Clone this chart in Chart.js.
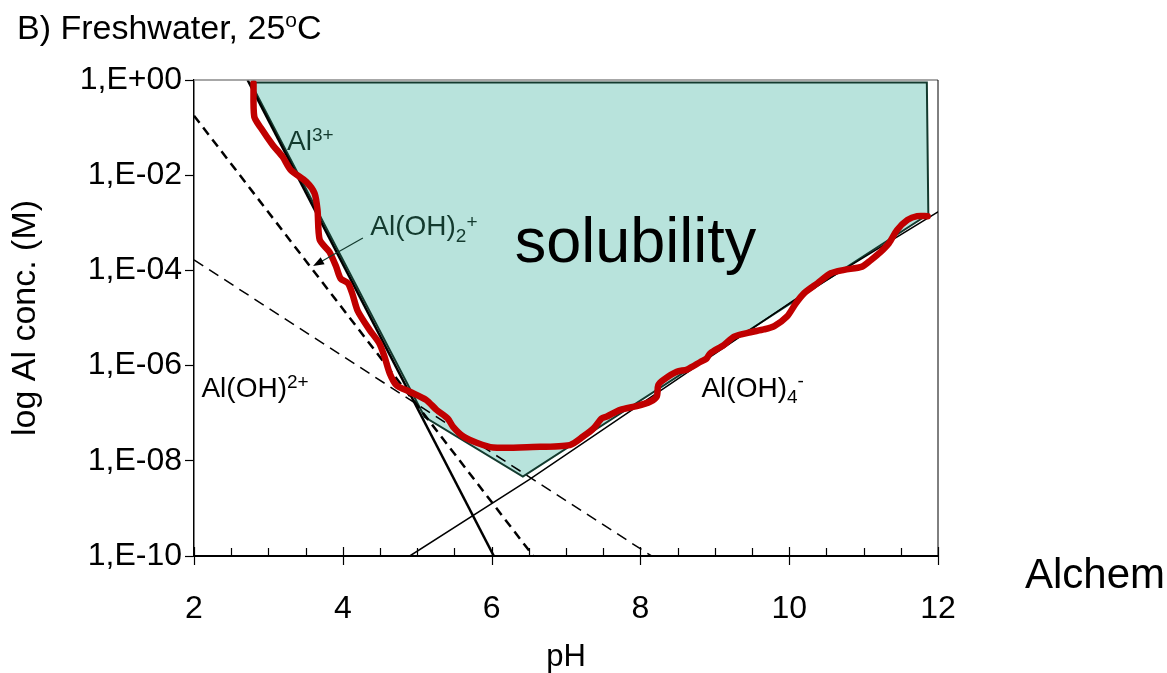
<!DOCTYPE html>
<html>
<head>
<meta charset="utf-8">
<script src="https://cdn.jsdelivr.net/npm/chart.js@4.4.1/dist/chart.umd.min.js"></script>
<style>
    html, body { margin: 0; padding: 0; background: #fff; }
    #wrap { width: 1167px; height: 673px; }
</style>
</head>
<body>
<div id="wrap"><canvas id="myChart" width="1167" height="673"></canvas></div>
<script>
let chart; // 전역 차트 객체

// 축 눈금
const pHTicks = [2, 4, 6, 8, 10, 12];
const logTicks = [-10, -8, -6, -4, -2, 0];
const logTickLabels = ["1,E-10", "1,E-08", "1,E-06", "1,E-04", "1,E-02", "1,E+00"];

// 용해도 영역 (다각형)
const solPH  = [2.76, 11.85, 11.87, 6.42, 5.10, 2.76];
const solLog = [-0.05, -0.05, -2.82, -8.33, -7.08, -0.05];

// Al3+ 선
const al3PH  = [2.72, 6.03];
const al3Log = [0, -10];

// Al(OH)4- 선
const al4PH  = [4.90, 6.50, 10.07, 12.05];
const al4Log = [-10, -8.40, -4.62, -2.72];

// Al(OH)2+ 선 (굵은 점선)
const alOH2PH  = [2, 6.56];
const alOH2Log = [-0.75, -10];

// Al(OH)2+ 선 (가는 점선)
const alOHPH  = [2, 8.15];
const alOHLog = [-3.78, -10];

// 측정 용해도 (빨간 선)
const measPH = [2.80, 2.81, 2.90, 3.06, 3.19, 3.30, 3.51, 3.62, 3.66, 3.69,
                3.82, 3.91, 3.97, 4.07, 4.13, 4.20, 4.36, 4.49, 4.56, 4.63,
                4.72, 4.90, 5.12, 5.26, 5.41, 5.48, 5.62, 5.80, 6.02, 6.55,
                7.05, 7.23, 7.37, 7.48, 7.55, 7.73, 7.95, 8.13, 8.22, 8.24,
                8.31, 8.49, 8.63, 8.81, 8.89, 8.94, 9.12, 9.26, 9.48, 9.66,
                9.80, 9.97, 10.09, 10.20, 10.38, 10.56, 10.74, 10.98, 11.10, 11.23,
                11.34, 11.45, 11.59, 11.72, 11.86];
const measLog = [-0.07, -0.77, -1.01, -1.37, -1.61, -1.89, -2.14, -2.38, -2.73, -3.36,
                 -3.61, -3.92, -4.17, -4.27, -4.50, -4.85, -5.25, -5.53, -5.81, -6.16,
                 -6.41, -6.55, -6.72, -6.93, -7.11, -7.28, -7.49, -7.62, -7.72, -7.71,
                 -7.67, -7.49, -7.32, -7.11, -7.07, -6.93, -6.85, -6.76, -6.65, -6.41,
                 -6.30, -6.13, -6.08, -5.92, -5.85, -5.74, -5.57, -5.39, -5.30, -5.24,
                 -5.17, -4.97, -4.69, -4.48, -4.27, -4.06, -3.99, -3.92, -3.78, -3.61,
                 -3.43, -3.15, -2.94, -2.86, -2.86];

const FONT = '"Liberation Sans", Arial, Helvetica, sans-serif';
const DARK_GREEN = "#133a2e";

function pts(xs, ys) {
    return xs.map((x, i) => ({ x: x, y: ys[i] }));
}

// 위첨자/아래첨자가 있는 텍스트
function richText(ctx, parts, x0, y0, color) {
    let cx = x0;
    ctx.fillStyle = color;
    ctx.textBaseline = "alphabetic";
    ctx.textAlign = "left";
    parts.forEach(p => {
        ctx.font = p.size + "px " + FONT;
        ctx.fillText(p.t, cx, y0 + (p.dy || 0));
        cx += ctx.measureText(p.t).width;
    });
}

// 라벨, 화살표, 눈금 등 추가 그리기
const extras = {
    id: "extras",
    afterDraw(c) {
        const { ctx, chartArea: a, scales: { x, y } } = c;
        const X = v => x.getPixelForValue(v);
        const Y = v => y.getPixelForValue(v);
        ctx.save();

        // 위쪽/오른쪽 테두리
        ctx.lineWidth = 1.5;
        ctx.strokeStyle = "#8a8a8a";
        ctx.beginPath(); ctx.moveTo(a.left, a.top); ctx.lineTo(a.right, a.top); ctx.stroke();
        ctx.lineWidth = 1;
        ctx.strokeStyle = "#000";
        ctx.beginPath(); ctx.moveTo(a.right, a.top); ctx.lineTo(a.right, a.bottom); ctx.stroke();

        // x축 눈금 (안쪽 작은 눈금, 짝수는 관통)
        ctx.lineWidth = 1.2;
        x.ticks.forEach(t => {
            const px = Math.round(X(t.value)) + 0.5;
            const major = pHTicks.includes(t.value);
            ctx.beginPath();
            ctx.moveTo(px, a.bottom - (major ? 9 : 8));
            ctx.lineTo(px, a.bottom + (major ? 9 : 0));
            ctx.stroke();
        });

        // 제목
        richText(ctx, [
            { t: "B) Freshwater, 25", size: 34 },
            { t: "o", size: 21, dy: -12 },
            { t: "C", size: 34 }
        ], 17, 39, "#000");

        // 종 라벨
        richText(ctx, [{ t: "Al", size: 28 }, { t: "3+", size: 19, dy: -9 }], X(3.25), Y(-1.47), DARK_GREEN);
        richText(ctx, [{ t: "Al(OH)", size: 28 }, { t: "2", size: 19, dy: 6.5 }, { t: "+", size: 19, dy: -7 }],
            X(4.37), Y(-3.26), DARK_GREEN);
        richText(ctx, [{ t: "Al(OH)", size: 28 }, { t: "2+", size: 19, dy: -9 }], X(2.10), Y(-6.65), "#000");
        richText(ctx, [{ t: "Al(OH)", size: 28 }, { t: "4", size: 19, dy: 6.5 }, { t: "-", size: 19, dy: -10 }],
            X(8.82), Y(-6.65), "#000");
        richText(ctx, [{ t: "solubility", size: 63 }], X(6.31), Y(-3.82), "#000");
        richText(ctx, [{ t: "Alchem", size: 42 }], 1025, 588, "#000");

        // Al(OH)2+ 화살표
        const x1 = X(4.27), y1 = Y(-3.32), x2 = X(3.60), y2 = Y(-3.91);
        const ang = Math.atan2(y2 - y1, x2 - x1);
        ctx.strokeStyle = DARK_GREEN;
        ctx.fillStyle = "#000";
        ctx.lineWidth = 1.2;
        ctx.beginPath(); ctx.moveTo(x1, y1); ctx.lineTo(x2 - 6 * Math.cos(ang), y2 - 6 * Math.sin(ang)); ctx.stroke();
        ctx.beginPath();
        ctx.moveTo(x2, y2);
        ctx.lineTo(x2 - 11 * Math.cos(ang) + 4 * Math.sin(ang), y2 - 11 * Math.sin(ang) - 4 * Math.cos(ang));
        ctx.lineTo(x2 - 11 * Math.cos(ang) - 4 * Math.sin(ang), y2 - 11 * Math.sin(ang) + 4 * Math.cos(ang));
        ctx.closePath();
        ctx.fill();

        ctx.restore();
    }
};

// 차트를 초기화하는 함수
function initChart() {
    Chart.defaults.font.family = FONT;
    Chart.defaults.color = "#000";
    const ctx = document.getElementById("myChart").getContext("2d");
    chart = new Chart(ctx, {
        type: "line",
        data: {
            datasets: [
                {
                    label: "measured",
                    data: pts(measPH, measLog),
                    borderColor: "#c00000",
                    borderWidth: 6.5,
                    tension: 0.25,
                    borderCapStyle: "round",
                    borderJoinStyle: "round",
                    fill: false,
                },
                {
                    label: "Al3+",
                    data: pts(al3PH, al3Log),
                    borderColor: "#000",
                    borderWidth: 2.5,
                    fill: false,
                },
                {
                    label: "Al(OH)4-",
                    data: pts(al4PH, al4Log),
                    borderColor: "#000",
                    borderWidth: 1.5,
                    fill: false,
                },
                {
                    label: "Al(OH)2+",
                    data: pts(alOH2PH, alOH2Log),
                    borderColor: "#000",
                    borderWidth: 2.5,
                    borderDash: [9, 6],
                    fill: false,
                },
                {
                    label: "Al(OH)2+ thin",
                    data: pts(alOHPH, alOHLog),
                    borderColor: "#000",
                    borderWidth: 1.5,
                    borderDash: [11, 7],
                    fill: false,
                },
                {
                    label: "solubility",
                    data: pts(solPH, solLog),
                    borderColor: DARK_GREEN,
                    borderWidth: 2,
                    backgroundColor: "#b8e3dc",
                    fill: "shape",
                },
            ],
        },
        options: {
            responsive: false,
            animation: false,
            devicePixelRatio: 1,
            layout: { padding: { top: 80, right: 229, bottom: 0, left: 0 } },
            elements: { point: { radius: 0, hoverRadius: 0 }, line: { tension: 0 } },
            plugins: { legend: { display: false }, tooltip: { enabled: false } },
            scales: {
                x: {
                    type: "linear",
                    min: 2,
                    max: 12,
                    afterFit: s => { s.height = 117; },
                    grid: { display: false, drawTicks: false },
                    border: { display: true, color: "#000", width: 2 },
                    ticks: {
                        stepSize: 0.5,
                        autoSkip: false,
                        maxRotation: 0,
                        padding: 37,
                        font: { size: 32, lineHeight: 1 },
                        color: "#000",
                        callback: v => pHTicks.includes(v) ? String(v) : "",
                    },
                    title: { display: true, text: "pH", color: "#000", font: { size: 31, lineHeight: 1 }, padding: 0 },
                },
                y: {
                    type: "linear",
                    min: -10,
                    max: 0,
                    afterFit: s => { s.width = 194; },
                    grid: { drawOnChartArea: false, drawTicks: true, tickLength: 9, tickColor: "#000", tickWidth: 1.2 },
                    border: { display: true, color: "#000", width: 1.5 },
                    ticks: {
                        stepSize: 2,
                        padding: 3,
                        font: { size: 32 },
                        color: "#000",
                        callback: v => logTickLabels[logTicks.indexOf(v)],
                    },
                    title: { display: true, text: "log Al conc. (M)", color: "#000", font: { size: 34, lineHeight: 1 }, padding: { top: 9, bottom: 0 } },
                },
            },
        },
        plugins: [extras],
    });
}

// 페이지가 로드될 때 차트를 초기화
window.onload = function () {
    initChart();
};
</script>
</body>
</html>
